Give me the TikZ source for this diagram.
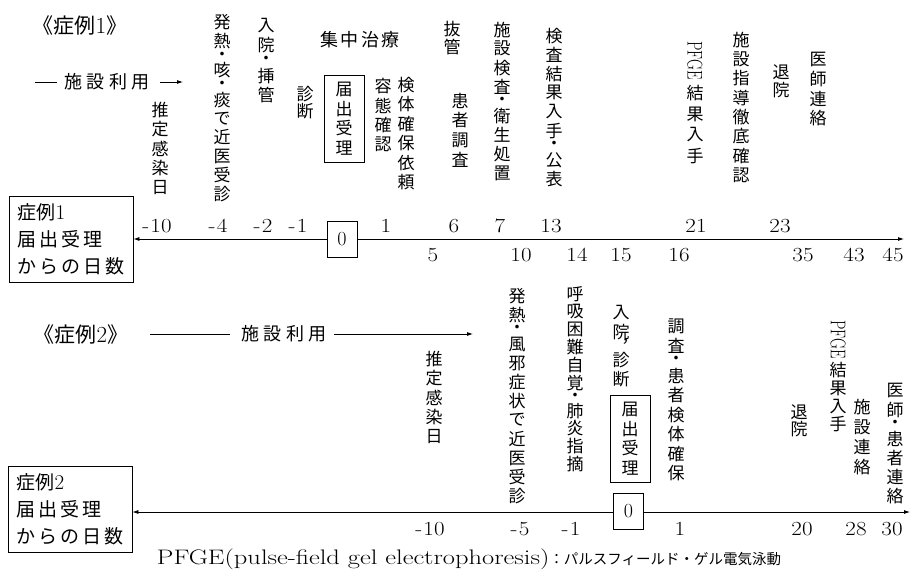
\documentclass[tikz,border=0pt]{standalone}
\usepackage{fontspec}
\usepackage{graphicx}
\usetikzlibrary{arrows.meta}
\newfontfamily\jp{Noto Sans CJK JP}
\makeatletter
\newdimen\vtpitch
\def\vt@dotchar{・}
\def\vt@commachar{︐}
\def\vt@pfge{\vtPFGE}
\newcommand\vtPFGE{\rotatebox{-90}{\rmfamily\fontsize{17}{17}\selectfont\scalebox{0.88}[1.25]{PFGE}}}
\def\vt@cell#1#2{\vbox to #1{\vss\hbox to 1em{\hss#2\hss}\vss}}
\newcommand\vtxt[2][19.5pt]{%
  \vtpitch=#1\relax
  \vbox{\offinterlineskip
    \@tfor\vt@c:=#2\do{%
      \ifx\vt@c\vt@dotchar \vt@cell{0.55\vtpitch}{\vt@c}%
      \else\ifx\vt@c\vt@commachar \vt@cell{0.5\vtpitch}{\vt@c}%
      \else\ifx\vt@c\vt@pfge \hbox to 1em{\hss\vtPFGE\hss}\kern3pt
      \else \vt@cell{\vtpitch}{\vt@c}\fi\fi\fi}}}
\newcommand\hsp[2]{\@tfor\hs@c:=#2\do{\hs@c\kern#1}\unkern}
\makeatother
\newcommand\nm[1]{\scalebox{1.15}[1]{#1}}
\tikzset{
  vt/.style={font=\jp\fontsize{17}{19}\selectfont, inner sep=0pt, anchor=north},
  hl/.style={font=\jp\fontsize{18}{20}\selectfont, inner sep=0pt},
  num/.style={font=\fontsize{20}{20}\selectfont, inner sep=0pt},
  zerobox/.style={draw, fill=white, font=\fontsize{20}{20}\selectfont, inner sep=0pt, line width=0.8pt, minimum width=30pt, minimum height=36pt},
  notifbox/.style={vt, draw, anchor=center, inner xsep=11.5pt, inner ysep=4.5pt, line width=0.8pt},
  daybox/.style={draw, align=left, font=\jp\fontsize{19}{27}\selectfont, inner xsep=8pt, inner ysep=4pt, minimum width=124pt, minimum height=86pt, line width=0.8pt},
  casetitle/.style={font=\jp\fontsize{21}{22}\selectfont, inner sep=0pt},
  axisline/.style={line width=0.8pt, {Latex[length=6pt,width=4pt]}-{Latex[length=6pt,width=4pt]}},
  thinline/.style={line width=0.8pt},
  arrline/.style={line width=0.8pt, -{Latex[length=6pt,width=4pt]}},
}
\begin{document}
\begin{tikzpicture}[x=1pt,y=-1pt]
\useasboundingbox (0,0) rectangle (911,571);
% ---------------- case 1 ----------------
\node[casetitle] (t1) at (80,26) {《症例{\rmfamily\fontsize{23}{23}\selectfont 1}》};
\coordinate (d1a) at (35,82); \coordinate (d1b) at (57,82);
\draw[thinline] (d1a) -- (d1b);
\node[hl] (f1) at (107,82) {\hsp{4.5pt}{施設利用}};
\coordinate (a1a) at (160,82); \coordinate (a1b) at (183,82);
\draw[arrline] (a1a) -- (a1b);
\node[hl] (ict) at (360,40) {\hsp{2.5pt}{集中治療}};

\node[vt] (v1a) at (160,100) {\vtxt{推定感染日}};
\node[vt] (v1b) at (222,13) {\vtxt[18.8pt]{発熱・咳・痰で近医受診}};
\node[vt] (v1c) at (266,16) {\vtxt{入院・挿管}};
\node[vt] (v1d) at (305,85) {\vtxt[17pt]{診断}};
\node[notifbox] (r1) at (344,118.5) {\vtxt{届出受理}};
\node[vt] (v1e) at (383,76) {\vtxt{容態確認}};
\node[vt] (v1f) at (406,75) {\vtxt{検体確保依頼}};
\node[vt] (v1g) at (452,20) {\vtxt[18pt]{抜管}};
\node[vt] (v1h) at (460,91) {\vtxt{患者調査}};
\node[vt] (v1i) at (502,20) {\vtxt[19pt]{施設検査・衛生処置}};
\node[vt] (v1j) at (554,26) {\vtxt[19pt]{検査結果入手・公表}};
\node[vt] (v1k) at (695,41) {\vtxt[21pt]{\vtPFGE 結果入手}};
\node[vt] (v1l) at (741,30) {\vtxt[19.3pt]{施設指導徹底確認}};
\node[vt] (v1m) at (781,63) {\vtxt[18pt]{退院}};
\node[vt] (v1n) at (818,50) {\vtxt{医師連絡}};

\node[daybox] (b1) at (71,239.5) {症例{\rmfamily\fontsize{21}{21}\selectfont 1}\\\hsp{3pt}{届出受理}\\\hsp{3pt}{からの日数}};
\coordinate (e1) at (904,239);
\draw[axisline] (b1.east |- e1) -- (e1);
\node[zerobox] (z1) at (342,239) {0};
\node[num] (p1a) at (157,226) {\nm{-\kern1pt10}};
\node[num] (p1b) at (218,226) {\nm{-\kern1pt4}};
\node[num] (p1c) at (263,226) {\nm{-\kern1pt2}};
\node[num] (p1d) at (298,226) {\nm{-\kern1pt1}};
\node[num] (p1e) at (386,226) {\nm{1}};
\node[num] (p1f) at (454,226) {\nm{6}};
\node[num] (p1g) at (500,226) {\nm{7}};
\node[num] (p1h) at (551,226) {\nm{13}};
\node[num] (p1i) at (696,226) {\nm{21}};
\node[num] (p1j) at (780,226) {\nm{23}};
\node[num] (q1a) at (433,255) {\nm{5}};
\node[num] (q1b) at (521,255) {\nm{10}};
\node[num] (q1c) at (577,255) {\nm{14}};
\node[num] (q1d) at (621,255) {\nm{15}};
\node[num] (q1e) at (679,255) {\nm{16}};
\node[num] (q1f) at (803,255) {\nm{35}};
\node[num] (q1g) at (854,255) {\nm{43}};
\node[num] (q1h) at (893,255) {\nm{45}};
% ---------------- case 2 ----------------
\node[casetitle] (t2) at (81,335) {《症例{\rmfamily\fontsize{23}{23}\selectfont 2}》};
\coordinate (d2a) at (150,334); \coordinate (d2b) at (230,334);
\draw[thinline] (d2a) -- (d2b);
\node[hl] (f2) at (284,334) {\hsp{4.5pt}{施設利用}};
\coordinate (a2a) at (334,334); \coordinate (a2b) at (473,334);
\draw[arrline] (a2a) -- (a2b);

\node[vt] (v2a) at (434,349) {\vtxt{推定感染日}};
\node[vt] (v2b) at (517,286) {\vtxt[19pt]{発熱・風邪症状で近医受診}};
\node[vt] (v2c) at (575,285) {\vtxt[17.8pt]{呼吸困難自覚・肺炎指摘}};
\node[vt] (v2d) at (621,303) {\vtxt[19pt]{入院︐診断}};
\node[notifbox] (r2) at (630,438.5) {\vtxt{届出受理}};
\node[vt] (v2e) at (676,316) {\vtxt{調査・患者検体確保}};
\node[vt] (v2f) at (799,403) {\vtxt[17.5pt]{退院}};
\node[vt] (v2g) at (838,320) {\vtxt[18pt]{\vtPFGE 結果入手}};
\node[vt] (v2h) at (862,397) {\vtxt[20pt]{施設連絡}};
\node[vt] (v2i) at (895,381) {\vtxt[19pt]{医師・患者連絡}};

\node[daybox] (b2) at (70,509.5) {症例{\rmfamily\fontsize{21}{21}\selectfont 2}\\\hsp{3pt}{届出受理}\\\hsp{3pt}{からの日数}};
\coordinate (e2) at (910,512);
\draw[axisline] (b2.east |- e2) -- (e2);
\node[zerobox] (z2) at (628.5,511.5) {0};
\node[num] (p2a) at (430,529) {\nm{-\kern1pt10}};
\node[num] (p2b) at (520,529) {\nm{-\kern1pt5}};
\node[num] (p2c) at (571,529) {\nm{-\kern1pt1}};
\node[num] (p2d) at (680,529) {\nm{1}};
\node[num] (p2e) at (802,529) {\nm{20}};
\node[num] (p2f) at (856,529) {\nm{28}};
\node[num] (p2g) at (892,529) {\nm{30}};
% ---------------- footnote ----------------
\node[inner sep=0pt] (fn) at (469,559) {\scalebox{1.26}[1]{\fontsize{21}{21}\selectfont PFGE(pulse-field gel electrophoresis)}{\jp\fontsize{14.5}{15}\selectfont ：パルスフィールド・ゲル電気泳動}};
\end{tikzpicture}
\end{document}
